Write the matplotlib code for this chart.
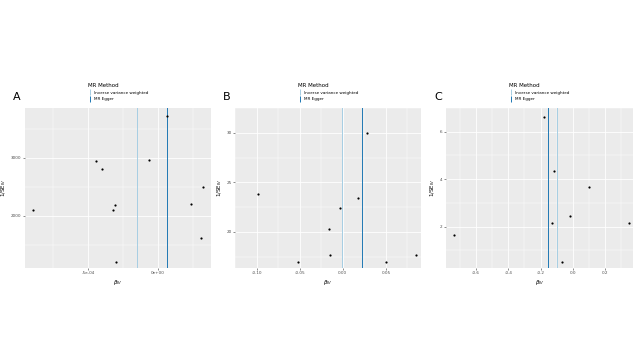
import matplotlib
matplotlib.use("Agg")
import matplotlib.pyplot as plt
from matplotlib.lines import Line2D

# panel A
a_beta = [-8.9e-4, -4.45e-4, -4.02e-4, -3.1e-4, -3.24e-4, -3.0e-4, -0.64e-4, 0.62e-4, 2.34e-4, 3.19e-4, 3.05e-4]
a_prec = [2103, 2948, 2800, 2190, 2103, 1207, 2966, 3724, 2197, 2490, 1610]
a_ivw, a_egger = -1.48e-4, 0.67e-4
a_xticks = [-5e-4, 0.0]
a_xlabels = ["-5e-04", "0e+00"]
a_yticks = [2000, 3000]

# panel B
b_beta = [-0.0979, -0.0519, -0.0145, -0.0159, -0.0029, 0.0173, 0.0286, 0.05, 0.0853]
b_prec = [23.84, 16.92, 17.63, 20.27, 22.38, 23.46, 30.0, 16.95, 17.63]
b_ivw, b_egger = -0.0014, 0.0219
b_xticks = [-0.10, -0.05, 0.0, 0.05]
b_xlabels = ["-0.10", "-0.05", "0.00", "0.05"]
b_yticks = [20, 25, 30]

# panel C
c_beta = [-0.735, -0.1795, -0.118, -0.130, -0.0168, -0.068, 0.099, 0.346]
c_prec = [1.665, 6.63, 4.33, 2.15, 2.46, 0.52, 3.65, 2.15]
c_ivw, c_egger = -0.101, -0.1565
c_xticks = [-0.6, -0.4, -0.2, 0.0, 0.2]
c_xlabels = ["-0.6", "-0.4", "-0.2", "0.0", "0.2"]
c_yticks = [2, 4, 6]

IVW_COL = "#A6CEE3"
EGGER_COL = "#1F78B4"
W, H = 640, 360


def panel(rect_px, letter, beta, prec, ivw, egger, xticks, xlabels, yticks, xlim, ylim):
    x0, x1, y0, y1 = rect_px
    ax = fig.add_axes([x0 / W, (H - y1) / H, (x1 - x0) / W, (y1 - y0) / H])
    ax.set_facecolor("#EBEBEB")
    for s in ax.spines.values():
        s.set_visible(False)
    ax.set_xlim(*xlim)
    ax.set_ylim(*ylim)
    ax.set_xticks(xticks, xlabels)
    ax.set_yticks(yticks)
    dx = xticks[1] - xticks[0]
    dy = yticks[1] - yticks[0]
    ax.set_xticks([t + dx / 2 for t in [xticks[0] - dx] + xticks], minor=True)
    ax.set_yticks([t + dy / 2 for t in [yticks[0] - dy] + yticks], minor=True)
    ax.grid(True, which="major", color="white", lw=0.6)
    ax.grid(True, which="minor", color="white", lw=0.3)
    ax.set_axisbelow(True)
    ax.tick_params(which="major", labelsize=3, length=1.5, width=0.4, color="#333333",
                   labelcolor="#4D4D4D", pad=1)
    ax.tick_params(which="minor", length=0)
    ax.axvline(ivw, color=IVW_COL, lw=0.7)
    ax.axvline(egger, color=EGGER_COL, lw=0.7)
    ax.scatter(beta, prec, s=2.5, color="black", zorder=3, linewidths=0)
    ax.set_xlabel(r"$\beta_{IV}$", fontsize=4, labelpad=2)
    ax.set_ylabel(r"1/SE$_{IV}$", fontsize=4, labelpad=2)
    handles = [Line2D([], [], color=IVW_COL, marker="|", ls="none", markersize=5, mew=0.7),
               Line2D([], [], color=EGGER_COL, marker="|", ls="none", markersize=5, mew=0.7)]
    leg = ax.legend(handles, ["Inverse variance weighted", "MR Egger"], title="MR Method",
                    loc="lower center", bbox_to_anchor=(0.5, 1.02), frameon=False,
                    fontsize=3, title_fontsize=4, handlelength=0.8, handletextpad=0.6,
                    labelspacing=0.6)
    leg._legend_box.align = "left"
    fig.text((x0 - 12) / W, (H - 97) / H, letter, fontsize=8, ha="left", va="center")
    return ax


fig = plt.figure(figsize=(6.4, 3.6), dpi=100)
fig.patch.set_facecolor("white")

panel((25, 211, 108, 268), "A", a_beta, a_prec, a_ivw, a_egger, a_xticks, a_xlabels,
      a_yticks, (-9.5e-4, 3.79e-4), (1098, 3857))
panel((235, 421, 108, 268), "B", b_beta, b_prec, b_ivw, b_egger, b_xticks, b_xlabels,
      b_yticks, (-0.1064, 0.0907), (16.35, 30.69))
panel((446, 633, 108, 268), "C", c_beta, c_prec, c_ivw, c_egger, c_xticks, c_xlabels,
      c_yticks, (-0.786, 0.373), (0.255, 6.95))

fig.savefig("out.png", dpi=100)
